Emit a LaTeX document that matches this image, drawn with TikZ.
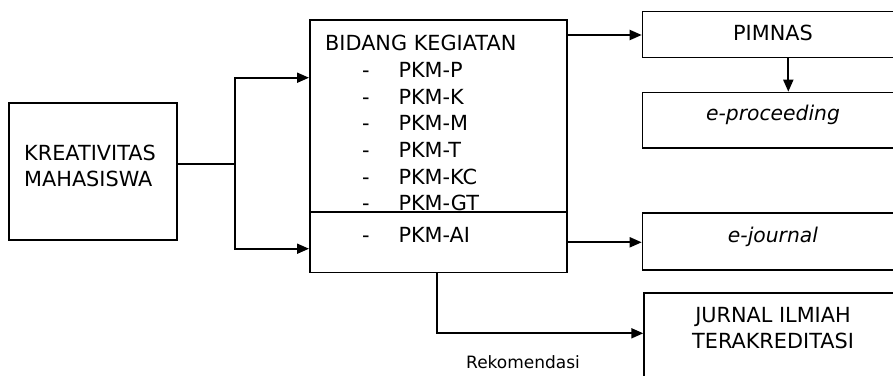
\documentclass[tikz,border=0pt]{standalone}
\usepackage{fontspec}
\setmainfont{DejaVu Sans}
\usetikzlibrary{arrows.meta,calc}
\tikzset{
  boxline/.style={draw=black, line width=1.6pt},
  bx/.style={boxline, rectangle, inner sep=0pt, anchor=north west},
  conn/.style={draw=black, line width=1.9pt},
  arr/.style={conn, -{Triangle[length=12pt,width=10pt]}},
  txt/.style={inner sep=0pt, anchor=base west, font=\fontsize{20.8}{24}\selectfont},
  ctxt/.style={inner sep=0pt, anchor=base, font=\fontsize{20.8}{24}\selectfont},
  itxt/.style={ctxt, font=\fontsize{20.3}{24}\selectfont\itshape},
  small/.style={inner sep=0pt, anchor=base west, font=\fontsize{17}{20}\selectfont}
}
\begin{document}
\begin{tikzpicture}[x=1pt,y=-1pt]
\useasboundingbox (0,0) rectangle (893,375);
% boxes
\node[bx, minimum width=168pt, minimum height=137pt] (k) at (8,102) {};
\node[bx, minimum width=257pt, minimum height=252.7pt] (b) at (309,19) {};
\node[bx, minimum width=262pt, minimum height=46pt] (p) at (641.7,10.7) {};
\node[bx, minimum width=262pt, minimum height=55.6pt] (e) at (641.7,91.7) {};
\node[bx, minimum width=262pt, minimum height=57pt] (j) at (641.7,212.3) {};
\node[bx, minimum width=262pt, minimum height=100pt] (r) at (643.3,292.3) {};
% divider inside bidang box
\draw[boxline] ($(b.north west)+(0,193)$) -- ($(b.north east)+(0,193)$);
% texts
\node[txt] (t1) at (24,160) {KREATIVITAS};
\node[txt] (t2) at (24,186.7) {MAHASISWA};
\node[txt] (b0) at (325,50.7) {BIDANG KEGIATAN};
\foreach \n/\y/\s in {1/77.3/P,2/104/K,3/130.7/M,4/157.3/T,5/184/KC,6/210.7/GT,7/242.7/AI}{
  \node[txt] (d\n) at (362,\y) {-};
  \node[txt] (l\n) at (398.3,\y) {PKM-\s};
}
\node[ctxt] (pt) at (773,40.7) {PIMNAS};
\node[itxt] (et) at (773,120.7) {e-proceeding};
\node[itxt] (jt) at (773,242.3) {e-journal};
\node[ctxt] (rt1) at (773,322.7) {JURNAL ILMIAH};
\node[ctxt] (rt2) at (773,348.3) {TERAKREDITASI};
\node[small] (rek) at (466,368) {Rekomendasi};
% connectors
\coordinate (kout) at ($(k.north east)+(0,62.3)$);
\coordinate (jtop) at (235,77.7);
\coordinate (jbot) at (235,248.7);
\draw[conn] (kout) -- (kout -| jtop);
\draw[arr] (kout -| jtop) -- (jtop) -- (jtop -| b.west);
\draw[arr] (kout -| jtop) -- (jbot) -- (jbot -| b.west);
\draw[arr] ($(b.north east)+(0,16)$) -- ($(p.north west)+(0,24.3)$);
\draw[arr] ($(p.south west)+(146.6,0)$) -- ($(e.north west)+(146.6,0)$);
\draw[arr] ($(b.north east)+(0,223.3)$) -- ($(j.north west)+(0,30)$);
\draw[arr] ($(b.south west)+(128.3,0)$) |- ($(r.north west)+(0,41)$);
\end{tikzpicture}
\end{document}
